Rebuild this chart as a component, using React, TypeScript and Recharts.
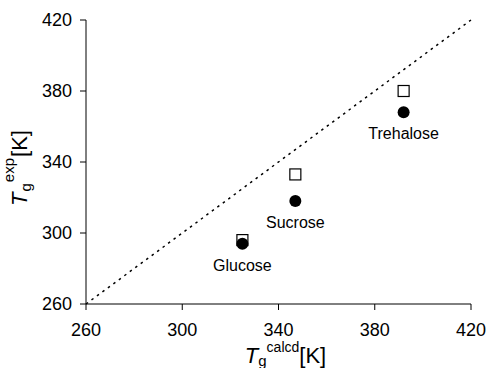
import { ScatterChart, Scatter, XAxis, YAxis, ZAxis, ReferenceLine } from 'recharts';

const FONT = 'Arial, "Liberation Sans", sans-serif';

// Glass transition temperatures, calculated vs experimental
const compounds = ['Glucose', 'Sucrose', 'Trehalose'];
const tgCalcd = [325, 347, 392];
const tgExpOpen = [296, 333, 380];
const tgExpFilled = [294, 318, 368];

const axisTicks = [260, 300, 340, 380, 420];

const openData = compounds.map((name, i) => ({ name, x: tgCalcd[i], y: tgExpOpen[i] }));
const filledData = compounds.map((name, i) => ({ name, x: tgCalcd[i], y: tgExpFilled[i] }));

function OpenSquare(props: any) {
  const { cx, cy } = props;
  return <rect x={cx - 5.5} y={cy - 5.5} width={11} height={11} fill="#fff" stroke="#000" strokeWidth={1.2} />;
}

function FilledCircle(props: any) {
  const { cx, cy, payload } = props;
  return (
    <g>
      <circle cx={cx} cy={cy} r={6} fill="#000" />
      <text x={cx} y={cy + 27} textAnchor="middle" fontSize={16} fontFamily={FONT} fill="#000">
        {payload.name}
      </text>
    </g>
  );
}

function XTitle(props: any) {
  const { viewBox } = props;
  const cx = viewBox.x + viewBox.width / 2 + 7;
  return (
    <text x={cx} y={363} textAnchor="middle" fontFamily={FONT} fontSize={22} fill="#000">
      <tspan fontStyle="italic" fill="#000">T</tspan>
      <tspan fontSize={15} dy={3}>g</tspan>
      <tspan fontSize={14} dy={-14}>calcd</tspan>
      <tspan fontSize={22} dy={11}>[K]</tspan>
    </text>
  );
}

function YTitle() {
  const x = 27;
  const y = 168;
  return (
    <text x={x} y={y} transform={`rotate(-90, ${x}, ${y})`} textAnchor="middle" fontFamily={FONT} fontSize={22} fill="#000">
      <tspan fontStyle="italic" fill="#000">T</tspan>
      <tspan fontSize={15} dx={1} dy={4}>g</tspan>
      <tspan fontSize={15} dx={1} dy={-17}>exp</tspan>
      <tspan fontSize={22} dx={1} dy={13}>[K]</tspan>
    </text>
  );
}

export default function App() {
  return (
    <div style={{ position: 'absolute', left: 0, top: 0, width: 489, height: 368, background: '#fff' }}>
      <ScatterChart width={489} height={368} margin={{ top: 20, right: 18, left: 0, bottom: 0 }}>
        <XAxis
          type="number"
          dataKey="x"
          domain={[260, 420]}
          ticks={axisTicks}
          height={64}
          tickSize={6}
          tickMargin={13}
          stroke="#000"
          tick={{ fill: '#000', fontSize: 18, fontFamily: FONT }}
          label={<XTitle />}
        />
        <YAxis
          type="number"
          dataKey="y"
          domain={[260, 420]}
          ticks={axisTicks}
          width={86}
          tickSize={6}
          tickMargin={8}
          stroke="#000"
          tick={{ fill: '#000', fontSize: 18, fontFamily: FONT }}
          label={<YTitle />}
        />
        <ZAxis range={[100, 100]} />
        <ReferenceLine
          segment={[{ x: 260, y: 260 }, { x: 420, y: 420 }]}
          stroke="#000"
          strokeWidth={1.5}
          strokeDasharray="2.5 4.3"
        />
        <Scatter data={openData} shape={<OpenSquare />} isAnimationActive={false} />
        <Scatter data={filledData} shape={<FilledCircle />} isAnimationActive={false} />
      </ScatterChart>
    </div>
  );
}
